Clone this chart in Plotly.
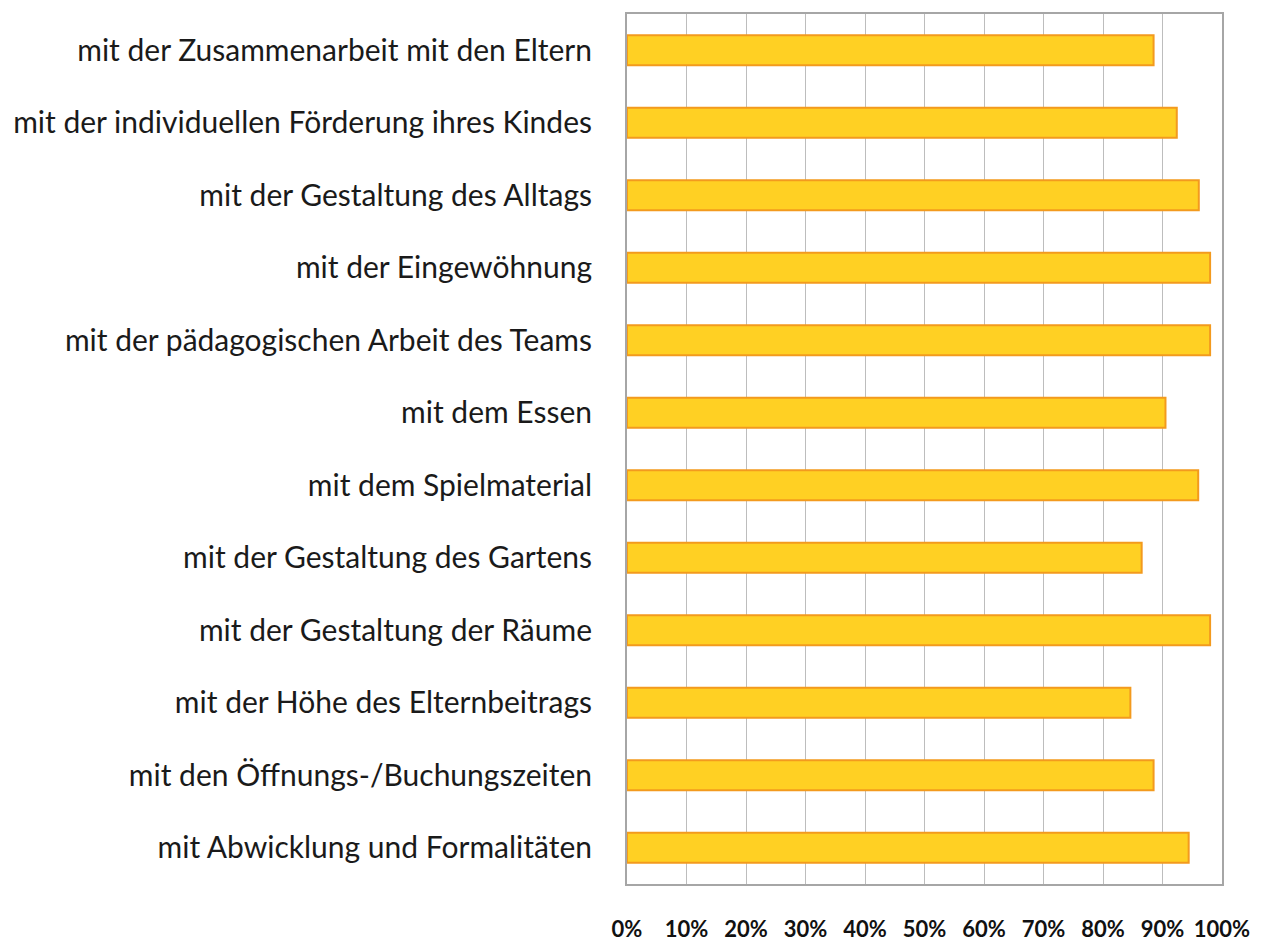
import plotly.graph_objects as go

categories = [
    "mit der Zusammenarbeit mit den Eltern",
    "mit der individuellen Förderung ihres Kindes",
    "mit der Gestaltung des Alltags",
    "mit der Eingewöhnung",
    "mit der pädagogischen Arbeit des Teams",
    "mit dem Essen",
    "mit dem Spielmaterial",
    "mit der Gestaltung des Gartens",
    "mit der Gestaltung der Räume",
    "mit der Höhe des Elternbeitrags",
    "mit den Öffnungs-/Buchungszeiten",
    "mit Abwicklung und Formalitäten",
]
values = [0.885, 0.924, 0.961, 0.980, 0.980, 0.905, 0.960, 0.865, 0.980, 0.846, 0.885, 0.944]
tick_vals = [i / 10 for i in range(11)]
tick_text = [f"{i*10}%" for i in range(11)]

fig = go.Figure(go.Bar(
    x=values,
    y=categories,
    orientation="h",
    marker=dict(color="#FFD023", line=dict(color="#F39A1E", width=2)),
    hoverinfo="x+y",
))

fig.update_layout(
    width=1262, height=942,
    margin=dict(l=619, r=48, t=6, b=66),
    paper_bgcolor="white", plot_bgcolor="white",
    bargap=0.585,
    showlegend=False,
    font=dict(family="Lato", color="#1a1a1a"),
)
fig.update_xaxes(
    range=[0, 1], tickvals=tick_vals, ticktext=tick_text,
    showgrid=True, gridcolor="#BDBDBD", gridwidth=1,
    showline=True, linecolor="#A6A6A6", linewidth=2, mirror=True,
    zeroline=False, automargin=False,
    tickfont=dict(family="Lato", size=22, weight="bold", color="#111111"),
    ticklabelstandoff=25,
)
fig.update_yaxes(
    autorange="reversed",
    showgrid=False, automargin=False,
    showline=True, linecolor="#A6A6A6", linewidth=2, mirror=True,
    tickfont=dict(family="Lato", size=30, color="#1a1a1a"),
    ticklabelstandoff=27,
)

fig.write_html("out.html")
